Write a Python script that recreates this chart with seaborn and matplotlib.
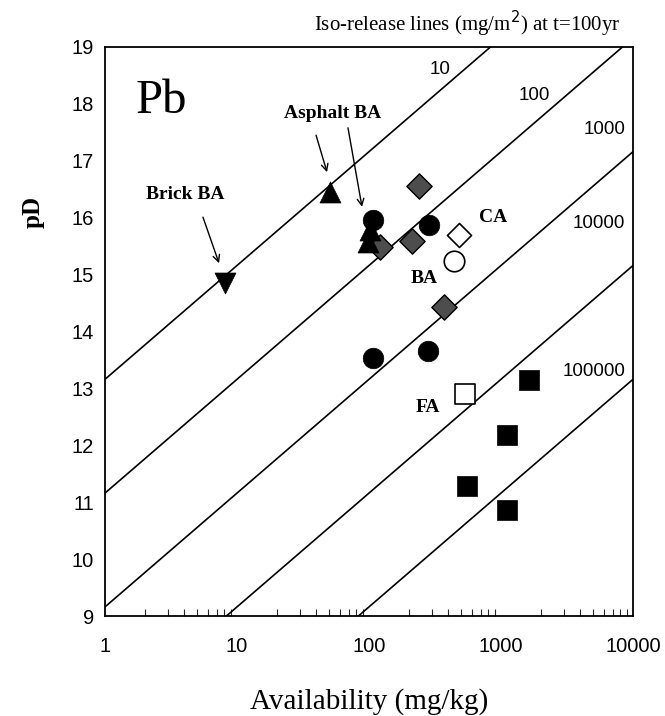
import numpy as np
import pandas as pd
import matplotlib
matplotlib.use("Agg")
import matplotlib.pyplot as plt
import seaborn as sns

# Leaching data for Pb: availability (mg/kg) vs pD
brick_ba_avail = [8.1]
brick_ba_pd = [14.85]

asphalt_ba_avail = [50.7, 102, 98]
asphalt_ba_pd = [16.45, 15.78, 15.57]

ba_avail = [107, 285, 107, 280]
ba_pd = [15.96, 15.87, 13.53, 13.66]

ba_open_avail = [440]
ba_open_pd = [15.24]

ca_avail = [121, 240, 212, 370]
ca_pd = [15.49, 16.56, 15.59, 14.43]

ca_open_avail = [480]
ca_open_pd = [15.70]

fa_avail = [1630, 1110, 550, 1110]
fa_pd = [13.15, 12.18, 11.28, 10.86]

fa_open_avail = [533]
fa_open_pd = [12.90]

# Iso-release lines (mg/m2) at t = 100 yr: pD = 2*log10(A) - 2*log10(E) + c
release_levels = [10, 100, 1000, 10000, 100000]
release_offset = 15.16
release_label_avail = [345, 1800, 8700, 8700, 8700]
release_label_pd = [18.6, 18.15, 17.55, 15.9, 13.29]
release_label_ha = ["center", "center", "right", "right", "right"]

x_ticks = [1, 10, 100, 1000, 10000]
x_tick_labels = ["1", "10", "100", "1000", "10000"]
y_ticks = list(range(9, 20))

sns.set_theme(style="white")
plt.rcParams["font.family"] = ["Liberation Sans", "DejaVu Sans"]
plt.rcParams["text.color"] = "black"
plt.rcParams["axes.labelcolor"] = "black"

fig = plt.figure(figsize=(6.65, 7.16), dpi=100)
ax = fig.add_axes([105 / 665, 1 - 616 / 716, 528 / 665, 569 / 716])

# iso-release lines
avail_grid = np.logspace(0, 4, 200)
rows = []
for lvl in release_levels:
    pd_vals = 2 * np.log10(avail_grid) - 2 * np.log10(lvl) + release_offset
    for a, p in zip(avail_grid, pd_vals):
        rows.append({"avail": a, "pD": p, "level": str(lvl)})
lines_df = pd.DataFrame(rows)
sns.lineplot(data=lines_df, x="avail", y="pD", units="level", estimator=None,
             color="black", lw=1.2, ax=ax, legend=False)

ms = 190
def pts(xs, ys):
    return pd.DataFrame({"avail": xs, "pD": ys})

sns.scatterplot(data=pts(ca_avail, ca_pd), x="avail", y="pD", marker="D", s=165,
                color="#4d4d4d", edgecolor="black", linewidth=1.0, ax=ax, zorder=3)
sns.scatterplot(data=pts(ca_open_avail, ca_open_pd), x="avail", y="pD", marker="D", s=150,
                facecolor="white", edgecolor="black", linewidth=1.2, ax=ax, zorder=3)
sns.scatterplot(data=pts(asphalt_ba_avail, asphalt_ba_pd), x="avail", y="pD", marker="^", s=ms * 1.2,
                color="black", edgecolor="black", linewidth=0.5, ax=ax, zorder=4)
sns.scatterplot(data=pts(brick_ba_avail, brick_ba_pd), x="avail", y="pD", marker="v", s=ms * 1.2,
                color="black", edgecolor="black", linewidth=0.5, ax=ax, zorder=4)
sns.scatterplot(data=pts(ba_avail, ba_pd), x="avail", y="pD", marker="o", s=ms * 1.15,
                color="black", edgecolor="black", linewidth=0.5, ax=ax, zorder=5)
sns.scatterplot(data=pts(ba_open_avail, ba_open_pd), x="avail", y="pD", marker="o", s=ms * 1.15,
                facecolor="white", edgecolor="black", linewidth=1.2, ax=ax, zorder=5)
sns.scatterplot(data=pts(fa_avail, fa_pd), x="avail", y="pD", marker="s", s=ms * 1.2,
                color="black", edgecolor="black", linewidth=0.5, ax=ax, zorder=4)
sns.scatterplot(data=pts(fa_open_avail, fa_open_pd), x="avail", y="pD", marker="s", s=ms * 1.2,
                facecolor="white", edgecolor="black", linewidth=1.2, ax=ax, zorder=4)

ax.set_xscale("log")
ax.set_xlim(1, 10000)
ax.set_ylim(9, 19)
ax.set_xticks(x_ticks)
ax.set_xticklabels(x_tick_labels)
ax.set_yticks(y_ticks)
ax.tick_params(axis="both", which="major", direction="in", length=7, width=1,
               labelsize=14.5, colors="black", pad=8)
ax.tick_params(axis="x", which="minor", direction="in", length=5, width=0.8, bottom=True)
ax.tick_params(top=False, right=False, which="both")
ax.tick_params(axis="x", which="major", pad=15)
for sp in ax.spines.values():
    sp.set_color("black")
    sp.set_linewidth(1.3)

serif = ["Liberation Serif", "DejaVu Serif"]
ax.set_xlabel("Availability (mg/kg)", fontsize=21, family=serif, color="black")
ax.xaxis.label.set_va("center")
ax.xaxis.set_label_coords(0.5, -0.151)
ax.set_ylabel("pD", fontsize=18, family=serif, fontweight="bold", rotation=90, color="black")
ax.yaxis.label.set_va("center")
ax.yaxis.set_label_coords(-0.136, 0.71)

# iso-release labels
for lvl, xa, ya, ha in zip(release_levels, release_label_avail, release_label_pd, release_label_ha):
    ax.text(xa, ya, str(lvl), fontsize=13.5, ha=ha, va="center", color="black")

ax.text(2.66, 17.84, "Pb", fontsize=35, family=serif, ha="center", va="baseline", color="black")
ax.text(870, 16.0, "CA", fontsize=14, family=serif, fontweight="bold", ha="center", va="center")
ax.text(260, 14.94, "BA", fontsize=14, family=serif, fontweight="bold", ha="center", va="center")
ax.text(280, 12.67, "FA", fontsize=14, family=serif, fontweight="bold", ha="center", va="center")
ax.text(4.04, 16.4, "Brick BA", fontsize=14, family=serif, fontweight="bold", ha="center", va="center")
ax.text(53, 17.84, "Asphalt BA", fontsize=14, family=serif, fontweight="bold", ha="center", va="center")

arrow = dict(arrowstyle="->", color="black", lw=1.0, shrinkA=0, shrinkB=0)
ax.annotate("", xy=(7.31, 15.2), xytext=(5.52, 16.01), arrowprops=arrow)
ax.annotate("", xy=(48.1, 16.8), xytext=(39.7, 17.45), arrowprops=arrow)
ax.annotate("", xy=(88.5, 16.19), xytext=(69.3, 17.58), arrowprops=arrow)

fig.text(620 / 665, 1 - 24 / 716, "Iso-release lines (mg/m$^2$) at t=100yr",
         fontsize=15, family=serif, ha="right", va="center", color="black")

fig.savefig("out.png", dpi=100)
